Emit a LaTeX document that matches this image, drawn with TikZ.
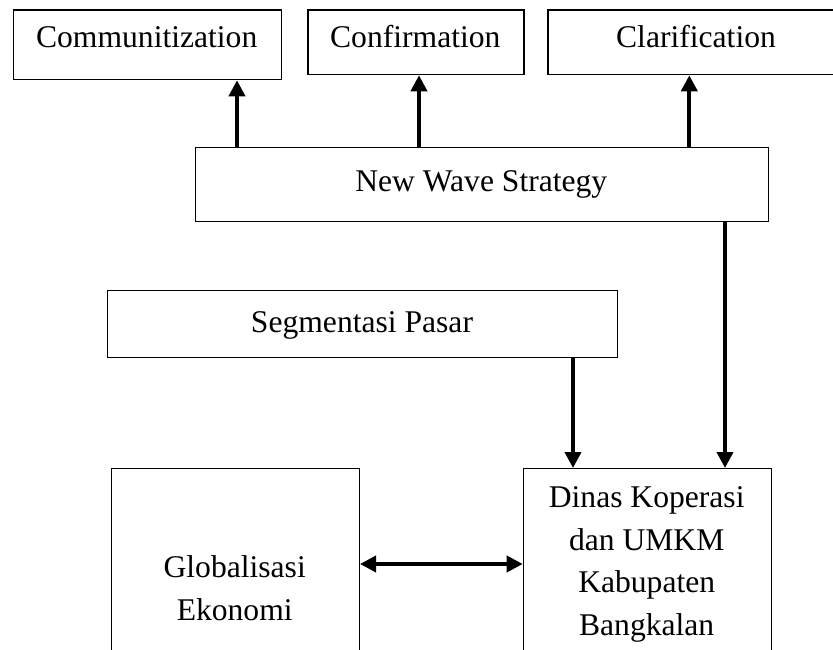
\documentclass[tikz,border=0pt]{standalone}
\usepackage{fontspec}
\setmainfont{Liberation Serif}
\usetikzlibrary{arrows.meta}
\begin{document}
\begin{tikzpicture}[x=1pt,y=-1pt,
  box/.style={draw=black,line width=1.3pt,rectangle,inner sep=0pt,anchor=north west},
  txt/.style={inner sep=0pt,anchor=base,align=center,font=\fontsize{31.6}{42.4}\selectfont},
  arr/.style={line width=3.8pt,-{Triangle[width=16pt,length=16pt]}},
  darr/.style={line width=3.8pt,{Triangle[width=16pt,length=16pt]}-{Triangle[width=16pt,length=16pt]}}]
\clip (0,0) rectangle (833,650);
% boxes
\node[box,minimum width=268pt,minimum height=69.7pt] (comm) at (12.7,9.3) {};
\node[box,minimum width=216pt,minimum height=64.7pt] (conf) at (307.3,9.3) {};
\node[box,minimum width=298pt,minimum height=64.7pt] (clar) at (547.3,9.3) {};
\node[box,minimum width=572.7pt,minimum height=74pt] (nws) at (195,146.7) {};
\node[box,minimum width=510pt,minimum height=67pt] (seg) at (107,290) {};
\node[box,minimum width=248pt,minimum height=250pt] (glob) at (110.7,468) {};
\node[box,minimum width=248pt,minimum height=250pt] (dinas) at (522.7,468) {};
% texts (base anchor = baseline of the last line)
\node[txt] (commt) at (146.7,48) {Communitization};
\node[txt] (conft) at (415.3,48) {Confirmation};
\node[txt] (clart) at (696,48) {Clarification};
\node[txt] (nwst) at (481.3,191) {New Wave Strategy};
\node[txt] (segt) at (362,332.5) {Segmentasi Pasar};
\node[txt] (globt) at (234.7,620) {Globalisasi\\Ekonomi};
\node[txt] (dinast) at (646.7,635) {Dinas Koperasi\\dan UMKM\\Kabupaten\\Bangkalan};
% connectors
\draw[arr] (nws.north west -| 237,0) -- (comm.south -| 237,0);
\draw[arr] (nws.north west -| 419,0) -- (conf.south -| 419,0);
\draw[arr] (nws.north west -| 689.3,0) -- (clar.south -| 689.3,0);
\draw[arr] (nws.south west -| 725,0) -- (dinas.north -| 725,0);
\draw[arr] (seg.south west -| 573,0) -- (dinas.north -| 573,0);
\draw[darr] (dinas.west |- 0,564) -- (glob.east |- 0,564);
\end{tikzpicture}
\end{document}
